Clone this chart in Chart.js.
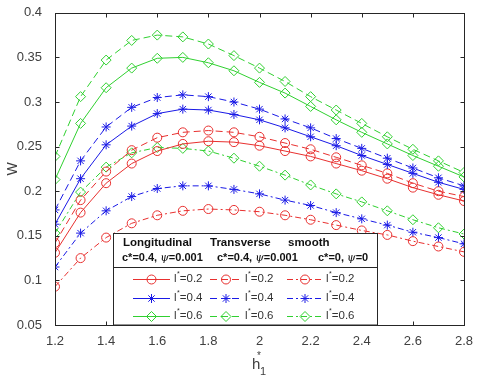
<!DOCTYPE html>
<html>
<head>
<meta charset="utf-8">
<script src="https://cdn.jsdelivr.net/npm/chart.js@4.4.1/dist/chart.umd.min.js"></script>
<style>
  html, body { margin: 0; padding: 0; background: #fff; }
  canvas { display: block; }
</style>
</head>
<body>
<canvas id="myChart" width="480" height="377"></canvas>
<script>
// x values (h1*) and axis ticks
const hValues = [1.2, 1.3, 1.4, 1.5, 1.6, 1.7, 1.8, 1.9, 2.0, 2.1, 2.2, 2.3, 2.4, 2.5, 2.6, 2.7, 2.8];
const xTicks  = [1.2, 1.4, 1.6, 1.8, 2.0, 2.2, 2.4, 2.6, 2.8];
const yTicks  = [0.05, 0.1, 0.15, 0.2, 0.25, 0.3, 0.35, 0.4];

// W values
const longRed    = [0.131, 0.176, 0.209, 0.231, 0.245, 0.253, 0.256, 0.255, 0.251, 0.245, 0.239, 0.231, 0.223, 0.214, 0.204, 0.196, 0.189];
const longBlue   = [0.163, 0.214, 0.252, 0.273, 0.287, 0.292, 0.291, 0.286, 0.280, 0.271, 0.261, 0.251, 0.240, 0.230, 0.220, 0.210, 0.202];
const longGreen  = [0.213, 0.276, 0.316, 0.338, 0.349, 0.350, 0.344, 0.335, 0.322, 0.310, 0.295, 0.280, 0.266, 0.253, 0.240, 0.228, 0.216];
const transRed   = [0.142, 0.190, 0.222, 0.246, 0.260, 0.266, 0.268, 0.266, 0.261, 0.254, 0.247, 0.238, 0.229, 0.220, 0.209, 0.200, 0.194];
const transBlue  = [0.179, 0.234, 0.272, 0.294, 0.305, 0.308, 0.306, 0.300, 0.292, 0.281, 0.271, 0.259, 0.248, 0.237, 0.226, 0.215, 0.206];
const transGreen = [0.239, 0.306, 0.347, 0.369, 0.375, 0.373, 0.365, 0.352, 0.338, 0.323, 0.306, 0.291, 0.276, 0.261, 0.247, 0.234, 0.221];
const smoothRed   = [0.093, 0.125, 0.148, 0.164, 0.173, 0.178, 0.180, 0.179, 0.177, 0.173, 0.168, 0.162, 0.156, 0.151, 0.144, 0.138, 0.132];
const smoothBlue  = [0.115, 0.153, 0.178, 0.194, 0.203, 0.206, 0.206, 0.202, 0.197, 0.190, 0.184, 0.176, 0.169, 0.162, 0.154, 0.148, 0.141];
const smoothGreen = [0.153, 0.199, 0.227, 0.243, 0.249, 0.248, 0.245, 0.237, 0.228, 0.218, 0.207, 0.197, 0.188, 0.178, 0.168, 0.159, 0.152];

// legend texts
const lStarLabels  = ['0.2', '0.4', '0.6'];
const groupTitles  = ['Longitudinal', 'Transverse', 'smooth'];
const groupParams  = [['0.4', '0.001'], ['0.4', '0.001'], ['0', '0']];

const colors  = ['#e8302f', '#1a1ae6', '#30d030'];
const markers = ['circle', 'star', 'rectRot'];
const radii   = [4.5, 4.5, 5];
const dashes  = [[], [7, 4], [6, 3, 2, 3]];
const groups  = [[longRed, longBlue, longGreen], [transRed, transBlue, transGreen], [smoothRed, smoothBlue, smoothGreen]];

const axisColor = '#262626';
const fmt = v => Number(v.toFixed(2)).toString();

const datasets = [];
groups.forEach((grp, g) => {
  grp.forEach((vals, c) => {
    datasets.push({
      label: groupTitles[g] + ' l*=' + lStarLabels[c],
      data: hValues.map((h, i) => ({ x: h, y: vals[i] })),
      borderColor: colors[c],
      backgroundColor: 'rgba(0,0,0,0)',
      borderWidth: 1,
      borderDash: dashes[g],
      pointStyle: markers[c],
      pointRadius: radii[c],
      pointBorderWidth: 1,
      pointBorderColor: colors[c],
      pointBackgroundColor: 'rgba(0,0,0,0)',
      tension: 0,
      group: g,
      row: c
    });
  });
});

// box, inward ticks, x title and the MATLAB-style legend
const decorations = {
  id: 'decorations',
  afterDraw(chart) {
    const { ctx, chartArea: { left, right, top, bottom }, scales: { x, y } } = chart;
    ctx.save();
    ctx.strokeStyle = axisColor;
    ctx.lineWidth = 1;
    ctx.setLineDash([]);
    const L = Math.round(left) + 0.5, R = Math.round(right) + 0.5;
    const T = Math.round(top) + 0.5, B = Math.round(bottom) + 0.5;
    ctx.strokeRect(L, T, R - L, B - T);
    ctx.beginPath();
    xTicks.forEach(v => {
      const px = Math.round(x.getPixelForValue(v)) + 0.5;
      ctx.moveTo(px, B); ctx.lineTo(px, B - 4);
      ctx.moveTo(px, T); ctx.lineTo(px, T + 4);
    });
    yTicks.forEach(v => {
      const py = Math.round(y.getPixelForValue(v)) + 0.5;
      ctx.moveTo(L, py); ctx.lineTo(L + 4, py);
      ctx.moveTo(R, py); ctx.lineTo(R - 4, py);
    });
    ctx.stroke();

    // x title h1*
    ctx.fillStyle = '#404040';
    ctx.textBaseline = 'alphabetic';
    ctx.textAlign = 'left';
    ctx.font = '15px "Liberation Sans", Arial, sans-serif';
    ctx.fillText('h', 252, 369);
    ctx.font = '10px "Liberation Sans", Arial, sans-serif';
    ctx.fillText('*', 257, 359);
    ctx.font = '11px "Liberation Sans", Arial, sans-serif';
    ctx.fillText('1', 260, 375);

    // legend
    const bx = 113.5, by = 233.5, bw = 264, bh = 91.5;
    ctx.fillStyle = '#fff';
    ctx.fillRect(bx, by, bw, bh);
    ctx.strokeStyle = axisColor;
    ctx.strokeRect(bx, by, bw, bh);
    ctx.beginPath();
    ctx.moveTo(bx, 267.5); ctx.lineTo(bx + bw, 267.5);
    ctx.stroke();

    ctx.fillStyle = '#111';
    ctx.textBaseline = 'middle';
    const titleX = [123, 210, 288];
    const paramX = [122, 217, 318];
    groupTitles.forEach((t, g) => {
      ctx.font = 'bold 11.5px "Liberation Sans", Arial, sans-serif';
      ctx.fillText(t, titleX[g], 243);
      let px = paramX[g];
      const bold = 'bold 11px "Liberation Sans", Arial, sans-serif';
      const ital = 'italic 11px "DejaVu Serif", serif';
      const part1 = 'c*=' + groupParams[g][0] + ', ';
      ctx.font = bold; ctx.fillText(part1, px, 258); px += ctx.measureText(part1).width;
      ctx.font = ital; ctx.fillText('\u03c8', px, 258); px += ctx.measureText('\u03c8').width;
      ctx.font = bold; ctx.fillText('=' + groupParams[g][1], px, 258);
    });

    const lineX = [[133, 170], [210, 242], [287, 323]];
    const textX = [174, 245, 326];
    const rowY  = [279, 298, 316];
    chart.data.datasets.forEach(ds => {
      const g = ds.group, c = ds.row;
      const yy = rowY[c] + 0.5;
      ctx.strokeStyle = ds.borderColor;
      ctx.lineWidth = 1;
      ctx.setLineDash(ds.borderDash);
      ctx.beginPath();
      ctx.moveTo(lineX[g][0], yy); ctx.lineTo(lineX[g][1], yy);
      ctx.stroke();
      ctx.setLineDash([]);
      ctx.fillStyle = 'rgba(0,0,0,0)';
      Chart.helpers.drawPoint(ctx, { pointStyle: ds.pointStyle, rotation: 0, radius: ds.pointRadius, borderWidth: 1 },
        (lineX[g][0] + lineX[g][1]) / 2, yy);
      ctx.fillStyle = '#333';
      let tx = textX[g];
      ctx.font = '11.5px "Liberation Sans", Arial, sans-serif';
      ctx.fillText('l', tx, rowY[c]); tx += ctx.measureText('l').width + 0.5;
      ctx.font = '7px "Liberation Sans", Arial, sans-serif';
      ctx.fillText('*', tx, rowY[c] - 5); tx += ctx.measureText('*').width;
      ctx.font = '11.5px "Liberation Sans", Arial, sans-serif';
      ctx.fillText('=' + lStarLabels[c], tx, rowY[c]);
    });
    ctx.restore();
  }
};

const ctx = document.getElementById('myChart').getContext('2d');
const chart = new Chart(ctx, {
  type: 'line',
  data: { datasets: datasets },
  options: {
    responsive: false,
    animation: false,
    devicePixelRatio: 1,
    layout: { padding: { top: 9, right: 16, left: 0, bottom: 0 } },
    plugins: { legend: { display: false }, tooltip: { enabled: false } },
    scales: {
      x: {
        type: 'linear',
        min: 1.2,
        max: 2.8,
        afterBuildTicks: s => { s.ticks = xTicks.map(v => ({ value: v })); },
        afterFit: s => { s.height = 52; },
        grid: { display: false },
        border: { display: false },
        ticks: {
          callback: v => fmt(v),
          color: '#404040',
          font: { family: '"Liberation Sans", Arial, sans-serif', size: 13 },
          padding: 1,
          maxRotation: 0,
          autoSkip: false
        }
      },
      y: {
        min: 0.05,
        max: 0.4,
        afterBuildTicks: s => { s.ticks = yTicks.map(v => ({ value: v })); },
        afterFit: s => { s.width = 55; },
        grid: { display: false },
        border: { display: false },
        title: {
          display: true,
          text: 'W',
          color: '#404040',
          font: { family: '"Liberation Sans", Arial, sans-serif', size: 14 },
          padding: { top: 5, bottom: 0 }
        },
        ticks: {
          callback: v => fmt(v),
          color: '#404040',
          font: { family: '"Liberation Sans", Arial, sans-serif', size: 13 },
          padding: 5,
          autoSkip: false
        }
      }
    }
  },
  plugins: [decorations]
});
</script>
</body>
</html>
